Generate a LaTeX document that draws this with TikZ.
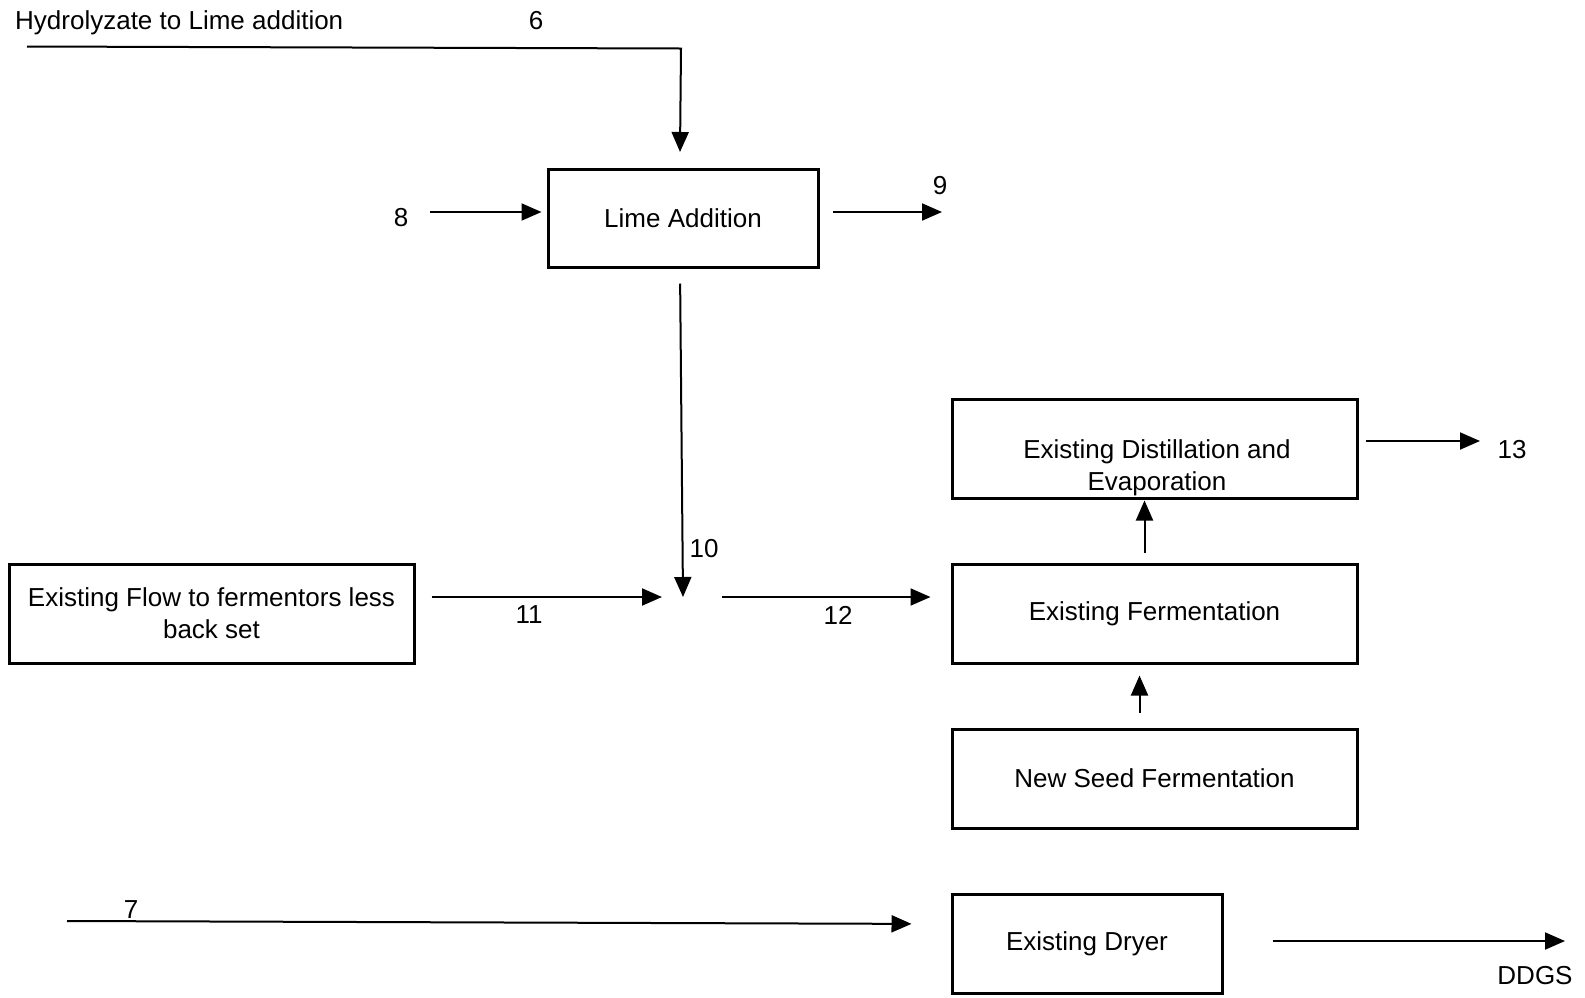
\documentclass[tikz,border=0pt]{standalone}
\usepackage{fontspec}
\setmainfont{Liberation Sans}
\usetikzlibrary{arrows.meta,calc}
\begin{document}
\begin{tikzpicture}[x=1pt,y=-1pt,
  box/.style={draw,line width=3pt,inner sep=0pt,align=center,font=\fontsize{26}{32}\selectfont},
  lbl/.style={inner sep=0pt,font=\fontsize{26}{32}\selectfont},
  flow/.style={line width=2pt,-{Triangle[length=20pt,width=17pt]}},
  plain/.style={line width=2pt}]
\useasboundingbox (0,0) rectangle (1585,997);
% boxes
\node[box,minimum width=270pt,minimum height=98pt] (lime) at (683,218) {Lime Addition};
\node[box,minimum width=405pt,minimum height=99pt] (flowbox) at (211.5,613.5) {Existing Flow to fermentors less\\back set};
\node[box,minimum width=405pt,minimum height=99pt] (dist) at (1154.5,448.5) {};
\node[lbl,align=center] (distT) at (1157,468) {Existing Distillation and\\Evaporation};
\node[box,minimum width=405pt,minimum height=99pt] (ferm) at (1154.5,613.5) {Existing Fermentation};
\node[box,minimum width=405pt,minimum height=99pt] (seed) at (1154.5,778.5) {New Seed Fermentation};
\node[box,minimum width=270pt,minimum height=99pt] (dryer) at (1087,943.5) {Existing Dryer};
% free ends
\coordinate (h0) at (27,46.5);
\coordinate (h1) at (681,48.5);
\coordinate (h2) at (680,152);
\coordinate (s8) at (430,212);
\coordinate (e9) at (942,212);
\coordinate (j) at (683,597);
\coordinate (e13) at (1480,441);
\coordinate (s7) at (67,921);
\coordinate (eD) at (1565,941);
% labels
\node[lbl,anchor=west] (hyd) at (15,23) {Hydrolyzate to Lime addition};
\node[lbl] (n6) at (536,21) {6};
\node[lbl] (n8) at (401,218) {8};
\node[lbl] (n9) at (940,186) {9};
\node[lbl] (n10) at (704,549) {10};
\node[lbl] (n11) at (529,615) {11};
\node[lbl] (n12) at (838,615) {12};
\node[lbl] (n13) at (1512,450) {13};
\node[lbl] (n7) at (131,910) {7};
\node[lbl] (nD) at (1535,976) {DDGS};
% connectors
\draw[flow] (h0) -- (h1) -- (h2);
\draw[flow,shorten >=5pt] (s8) -- (lime.west |- s8);
\draw[flow,shorten <=13pt] (lime.east |- e9) -- (e9);
\draw[flow,shorten <=15pt] ([xshift=-3pt]lime.south) -- (j);
\draw[flow,shorten <=16pt,shorten >=21pt] (flowbox.east |- j) -- (j);
\draw[flow,shorten <=39pt,shorten >=20pt] (j) -- (ferm.west |- j);
\draw[flow,shorten <=7pt] (dist.east |- e13) -- (e13);
\draw[flow,shorten <=10pt,shorten >=1pt] ([xshift=-10pt]ferm.north) -- ([xshift=-10pt]dist.south);
\draw[flow,shorten <=15pt,shorten >=11pt] ([xshift=-15pt]seed.north) -- ([xshift=-15pt]ferm.south);
\draw[flow,shorten >=39pt] (s7) -- (dryer.west |- 0,924);
\draw[flow,shorten <=49pt] (dryer.east |- eD) -- (eD);
\end{tikzpicture}
\end{document}
